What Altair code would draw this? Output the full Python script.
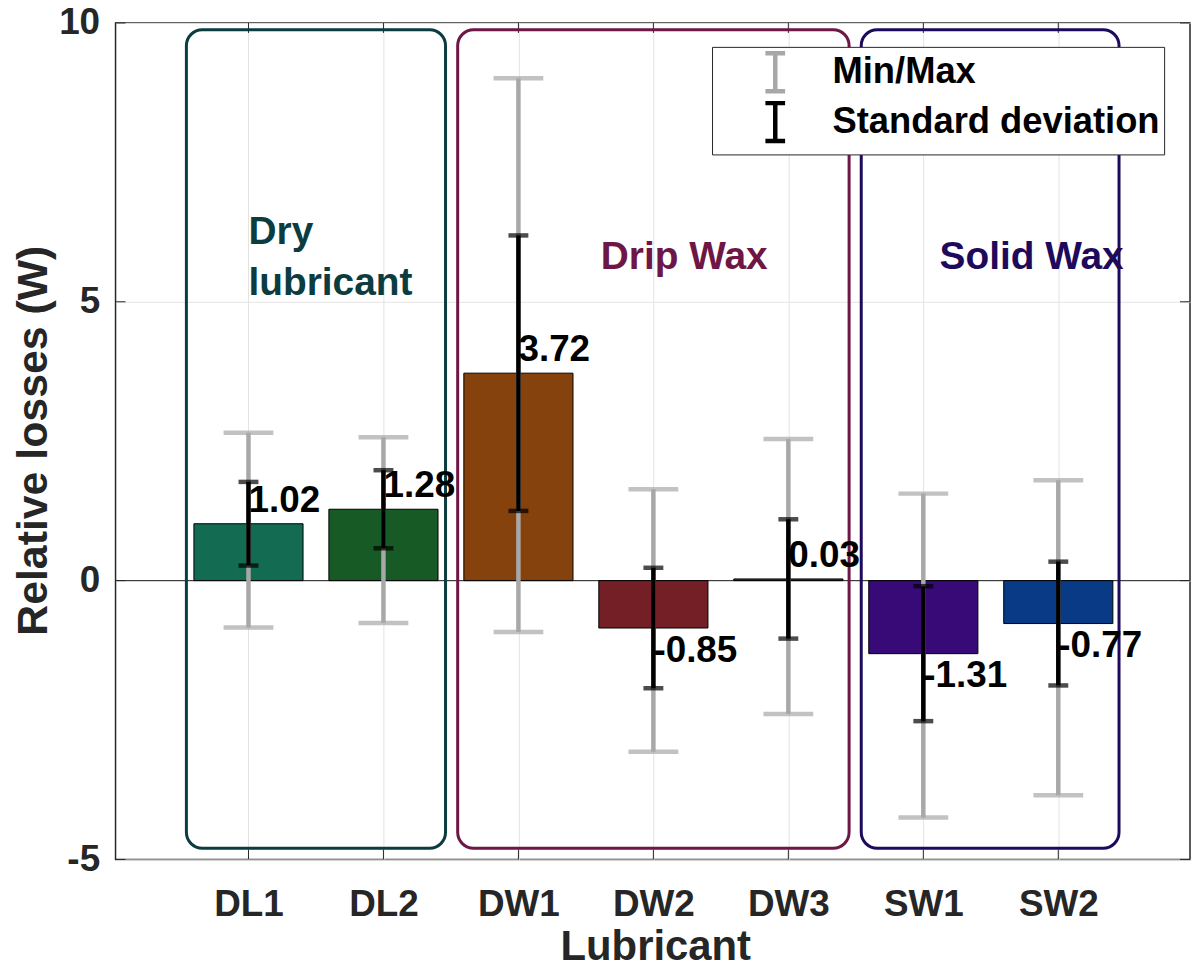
import altair as alt
import pandas as pd

# ---- data ----
names = ["DL1", "DL2", "DW1", "DW2", "DW3", "SW1", "SW2"]
means = [1.02, 1.28, 3.72, -0.85, 0.03, -1.31, -0.77]
stds = [0.75, 0.70, 2.47, 1.08, 1.07, 1.21, 1.11]
mins = [-0.84, -0.76, -0.92, -3.07, -2.39, -4.25, -3.85]
maxs = [2.65, 2.57, 9.01, 1.64, 2.54, 1.56, 1.80]
bar_colors = ["#136B52", "#185A26", "#86420C", "#741E26", "#6E1848", "#370A78", "#083A85"]

group_names = ["Dry\nlubricant", "Drip Wax", "Solid Wax"]
group_colors = ["#0B3C40", "#6E1646", "#1E0A5C"]
group_start = [0.54, 2.55, 5.54]
group_end = [2.46, 5.45, 7.45]
group_bottom = [-4.8, -4.8, -4.8]
group_top = [9.88, 9.88, 9.88]
group_label_x = [1.0, 3.61, 6.12]
group_label_y = [6.04, 5.59, 5.59]

kinds = ["Min/Max", "Standard deviation"]
kind_colors = ["#A8A8A8", "#000000"]
y_ticks = [-5, 0, 5, 10]
x_domain = [0.052, 7.939]
y_domain = [-5, 10]

# ---- layout ----
W, H = 1079, 840
FONT = "Liberation Sans"
AX = "#262626"

positions = list(range(1, len(names) + 1))
bars = pd.DataFrame({
    "name": names, "pos": positions, "mean": means, "std": stds,
    "color": bar_colors,
    "label": [f"{v:.2f}" for v in means],
})

err_rows, cap_rows = [], []
for k in kinds:
    for p, m, s, lo, hi in zip(positions, means, stds, mins, maxs):
        if k == "Min/Max":
            a, b = lo, hi
        else:
            a, b = m - s, m + s
        err_rows.append({"pos": p, "kind": k, "lo": a, "hi": b})
        cap_rows.append({"pos": p, "kind": k, "y": a})
        cap_rows.append({"pos": p, "kind": k, "y": b})
err = pd.DataFrame(err_rows)
caps = pd.DataFrame(cap_rows)

groups = pd.DataFrame({
    "name": group_names, "color": group_colors,
    "x0": group_start, "x1": group_end, "y0": group_bottom, "y1": group_top,
    "lx": group_label_x, "ly": group_label_y,
})

xscale = alt.Scale(domain=x_domain, nice=False, zero=False)
yscale = alt.Scale(domain=y_domain, nice=False, zero=False)

label_expr = "[" + ",".join(f"'{n}'" for n in names) + "][datum.value - 1]"
xaxis = alt.Axis(
    values=positions, labelExpr=label_expr, title="Lubricant",
    grid=True, gridColor="#E3E3E3", gridWidth=1, ticks=False, domain=False,
    labelFont=FONT, labelFontSize=37, labelFontWeight="bold", labelColor=AX,
    labelBaseline="alphabetic", labelPadding=56, labelAlign="center",
    titleFont=FONT, titleFontSize=42, titleFontWeight="bold", titleColor=AX,
    titleBaseline="alphabetic", titleX=542, titleY=100,
)
yaxis = alt.Axis(
    values=y_ticks, labelExpr="'' + datum.value", title="Relative losses (W)",
    grid=True, gridColor="#E3E3E3", gridWidth=1, ticks=False, domain=False,
    labelFont=FONT, labelFontSize=37, labelFontWeight="bold", labelColor=AX,
    labelPadding=16, labelBaseline="middle",
    titleFont=FONT, titleFontSize=43, titleFontWeight="bold", titleColor=AX,
    titleBaseline="alphabetic", titleX=-69, titleY=419, titleAngle=270,
)

X = lambda f: alt.X(f, type="quantitative", scale=xscale, axis=xaxis)
Y = lambda f: alt.Y(f, type="quantitative", scale=yscale, axis=yaxis)

base_bars = alt.Chart(bars)

zero_line = alt.Chart(pd.DataFrame({"y": [0]})).mark_rule(color=AX, strokeWidth=1).encode(
    y=Y("y"), x=alt.value(0), x2=alt.value(W)
)

xt = alt.Chart(pd.DataFrame({"pos": positions}))
xticks_top = xt.mark_rule(color=AX, strokeWidth=1).encode(x=X("pos"), y=alt.value(0), y2=alt.value(10))
xticks_bot = xt.mark_rule(color=AX, strokeWidth=1).encode(x=X("pos"), y=alt.value(H - 10), y2=alt.value(H))
yt = alt.Chart(pd.DataFrame({"v": y_ticks}))
yticks_l = yt.mark_rule(color=AX, strokeWidth=1).encode(y=Y("v"), x=alt.value(0), x2=alt.value(10))
yticks_r = yt.mark_rule(color=AX, strokeWidth=1).encode(y=Y("v"), x=alt.value(W - 10), x2=alt.value(W))

boxes = alt.Chart(groups).mark_rect(filled=False, strokeWidth=3, cornerRadius=16).encode(
    x=X("x0"), x2="x1", y=Y("y0"), y2="y1",
    color=alt.Color("color:N", scale=None),
)
group_text = alt.Chart(groups).mark_text(
    align="left", baseline="alphabetic", font=FONT, fontSize=39, fontWeight="bold",
    lineBreak="\n", lineHeight=51,
).encode(x=X("lx"), y=Y("ly"), text="name:N", color=alt.Color("color:N", scale=None))

bar_marks = base_bars.mark_bar(size=109.6, stroke="#000000", strokeWidth=1).encode(
    x=X("pos"), y=Y("mean"), y2=alt.datum(0),
    color=alt.Color("color:N", scale=None),
)

legend = alt.Legend(
    title=None, orient="none", legendX=599, legendY=24,
    symbolType="M0,-1L0,1M-0.52,-1L0.52,-1M-0.52,1L0.52,1",
    symbolSize=1444, symbolStrokeWidth=4.5, symbolOffset=38,
    labelFont=FONT, labelFontSize=36.5, labelFontWeight="bold", labelColor="#000000",
    labelOffset=36, labelLimit=600, rowPadding=-12, padding=4,
    strokeColor=AX, fillColor="#FFFFFF",
)
kind_scale = alt.Scale(domain=kinds, range=kind_colors)
color_enc = alt.Color("kind:N", scale=kind_scale, legend=legend, sort=kinds)

err_rules = alt.Chart(err).mark_rule(strokeWidth=4.5).encode(
    x=X("pos"), y=Y("lo"), y2="hi", color=color_enc,
)
caps_gray = alt.Chart(caps).transform_filter(
    alt.datum.kind == kinds[0]
).mark_tick(orient="horizontal", thickness=4.5, size=50).encode(
    x=X("pos"), y=Y("y"), color=color_enc,
)
caps_black = alt.Chart(caps).transform_filter(
    alt.datum.kind == kinds[1]
).mark_tick(orient="horizontal", thickness=4.5, size=20).encode(
    x=X("pos"), y=Y("y"), color=color_enc,
)

values_text = base_bars.transform_calculate(
    ly="datum.mean + (datum.mean >= 0 ? 0.41 : -0.41)"
).mark_text(
    align="left", baseline="middle", font=FONT, fontSize=37, fontWeight="bold", color="#000000"
).encode(x=X("pos"), y=Y("ly"), text="label:N")

chart = alt.layer(
    zero_line, xticks_top, xticks_bot, yticks_l, yticks_r,
    boxes, group_text, bar_marks, err_rules, caps_gray, caps_black, values_text,
).properties(
    width=W, height=H,
    autosize=alt.AutoSizeParams(type="none"),
    padding={"left": 108, "top": 13, "right": 2, "bottom": 110},
).configure(font=FONT).configure_view(stroke=AX, strokeWidth=1.5)

chart.save("out.html", embed_options={"renderer": "svg", "actions": False})
